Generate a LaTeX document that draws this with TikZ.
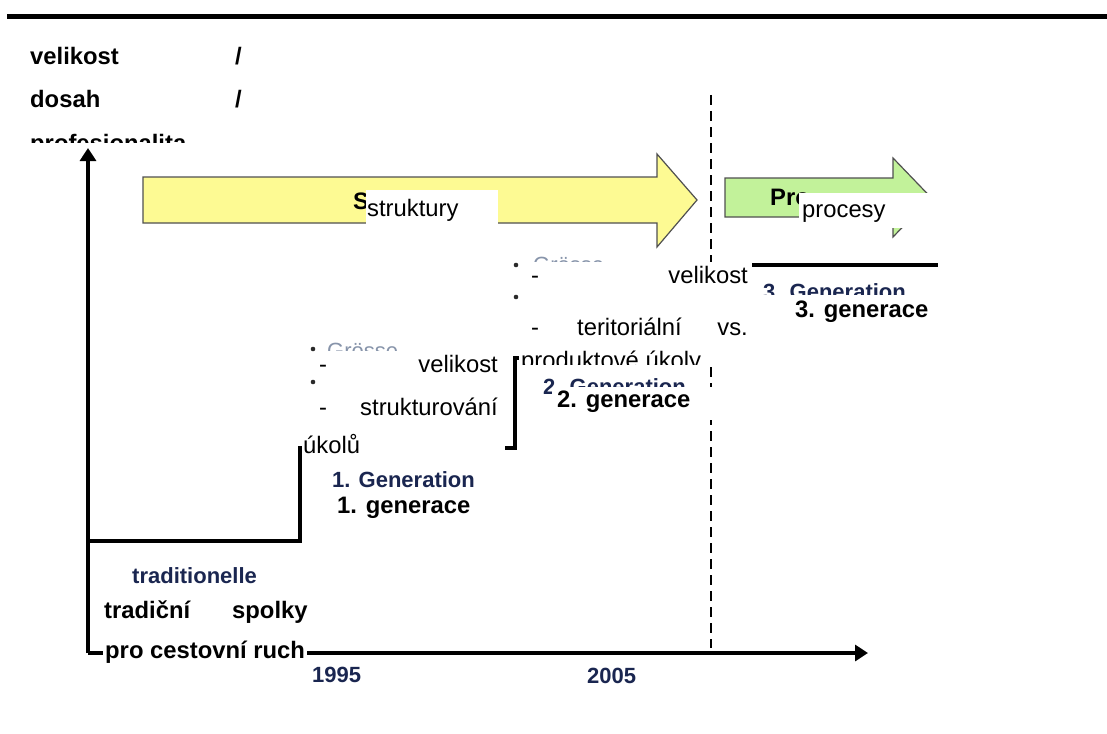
\documentclass[tikz,border=0pt]{standalone}
\usepackage{fontspec}
\setmainfont{Liberation Sans}
\usetikzlibrary{arrows.meta}
\definecolor{navy}{HTML}{1A2650}
\definecolor{bulletgray}{HTML}{8794AA}
\definecolor{bulletdark}{HTML}{2A2A2A}
\definecolor{arrowyellow}{HTML}{FDFA93}
\definecolor{arrowgreen}{HTML}{C2F29A}
\definecolor{rimgray}{HTML}{505050}
\begin{document}
\begin{tikzpicture}[x=1pt,y=-1pt,
  cz/.style={anchor=base west,inner sep=0pt,font=\fontsize{23.8}{28}\selectfont},
  czb/.style={anchor=base west,inner sep=0pt,font=\fontsize{23.8}{28}\selectfont\bfseries},
  de/.style={anchor=base west,inner sep=0pt,text=navy,font=\fontsize{22}{26}\selectfont\bfseries},
  degray/.style={anchor=base west,inner sep=0pt,text=bulletgray,font=\fontsize{22}{26}\selectfont},
  bul/.style={fill=bulletdark},
  band/.style={fill=white},
  stair/.style={line width=4pt,line join=miter},
  axis/.style={line width=3.2pt,-{Triangle[length=13pt,width=16pt]}},
  phase/.style={draw=rimgray,line width=1.2pt,line join=miter}]
\useasboundingbox (0,0) rectangle (1107,733);
\fill[white] (0,0) rectangle (1107,733);

% heading rule
\draw[line width=5.3pt] (7,16.5) -- (1107,16.5);

% phase boundary
\draw[line width=2.8pt,dash pattern=on 10pt off 6pt] (711,95) -- (711,648);

% phase arrows
\filldraw[phase,fill=arrowyellow] (143,177) -- (657,177) -- (657,154) -- (697,200)
  -- (657,247) -- (657,223) -- (143,223) -- cycle;
\filldraw[phase,fill=arrowgreen] (725,178) -- (893,178) -- (893,158) -- (931,197.5)
  -- (893,237) -- (893,217) -- (725,217) -- cycle;

% generation staircase
\draw[stair] (88,541) -- (300,541) -- (300,448) -- (515,448) -- (515,358)
  -- (750,358) -- (750,265) -- (938,265);

% axes
\coordinate (origin) at (88,653);
\coordinate (ytip) at (88,148);
\coordinate (xtip) at (868,653);
\draw[axis] (origin) -- (ytip);
\draw[axis] (origin) -- (xtip);

% original labels underneath
\node[czb] (sA) at (353,209) {S};
\node[czb] (proA) at (770,205) {Pro};
\fill[bul] (313,349) circle (2.3pt);
\node[degray] (gr1) at (327,358) {Grösse};
\fill[bul] (313,382) circle (2.3pt);
\fill[bul] (516,265) circle (2.3pt);
\node[degray] (gr2) at (533,272) {Grösse};
\fill[bul] (516,297) circle (2.3pt);
\node[de] (gen2) at (543,394) {2. Generation};
\node[de] (gen3) at (763,299) {3. Generation};

% white text bands
\fill[band] (366,190) rectangle (498,226);
\fill[band] (799,193) rectangle (933,228);
\fill[band] (317,351) rectangle (505,377);
\fill[band] (317,390) rectangle (505,425);
\fill[band] (302,432) rectangle (505,462);
\fill[band] (526,262) rectangle (752,350);
\fill[band] (519,350) rectangle (752,364);
\fill[band] (552,387) rectangle (715,420);
\fill[band] (758,295) rectangle (935,322);
\fill[band] (103,638) rectangle (307,666);

% axis title
\node[czb] (t1) at (30,65) {velikost};
\node[czb] (s1) at (235,65) {/};
\node[czb] (t2) at (30,108) {dosah};
\node[czb] (s2) at (235,108) {/};
\begin{scope}
  \clip (0,0) rectangle (1107,142);
  \node[czb] (t3) at (30,151) {profesionalita};
\end{scope}

% phases
\node[cz] (struct) at (367,216) {struktury};
\node[cz] (proc) at (802,217) {procesy};

% first generation
\node[cz] (d1a) at (319,372) {-};
\node[cz,anchor=base east] (v1) at (498,372) {velikost};
\node[cz] (d1b) at (319,415) {-};
\node[cz,anchor=base east] (st1) at (498,415) {strukturování};
\node[cz] (uk1) at (303,453) {úkolů};
\node[de] (gen1) at (332,487) {1. Generation};
\node[czb] (g1) at (337,513) {1. generace};

% second generation
\node[cz] (d2a) at (531,283) {-};
\node[cz,anchor=base east] (v2) at (748,283) {velikost};
\node[cz] (d2b) at (531,335) {-};
\node[cz] (ter) at (577,335) {teritoriální};
\node[cz,anchor=base east] (vs) at (748,335) {vs.};
\begin{scope}
  \clip (500,300) rectangle (760,364);
  \node[cz] (prod) at (521,368) {produktové úkoly};
\end{scope}
\node[czb] (g2) at (557,407) {2. generace};

% third generation
\node[czb] (g3) at (795,317) {3. generace};

% traditional associations
\node[de] (trad) at (132,583) {traditionelle};
\node[czb] (tr1) at (104,618) {tradiční};
\node[czb] (tr2) at (232,618) {spolky};
\node[czb] (tr3) at (105,658) {pro cestovní ruch};

% years
\node[de] (y1995) at (312,682) {1995};
\node[de] (y2005) at (587,683) {2005};
\end{tikzpicture}
\end{document}
